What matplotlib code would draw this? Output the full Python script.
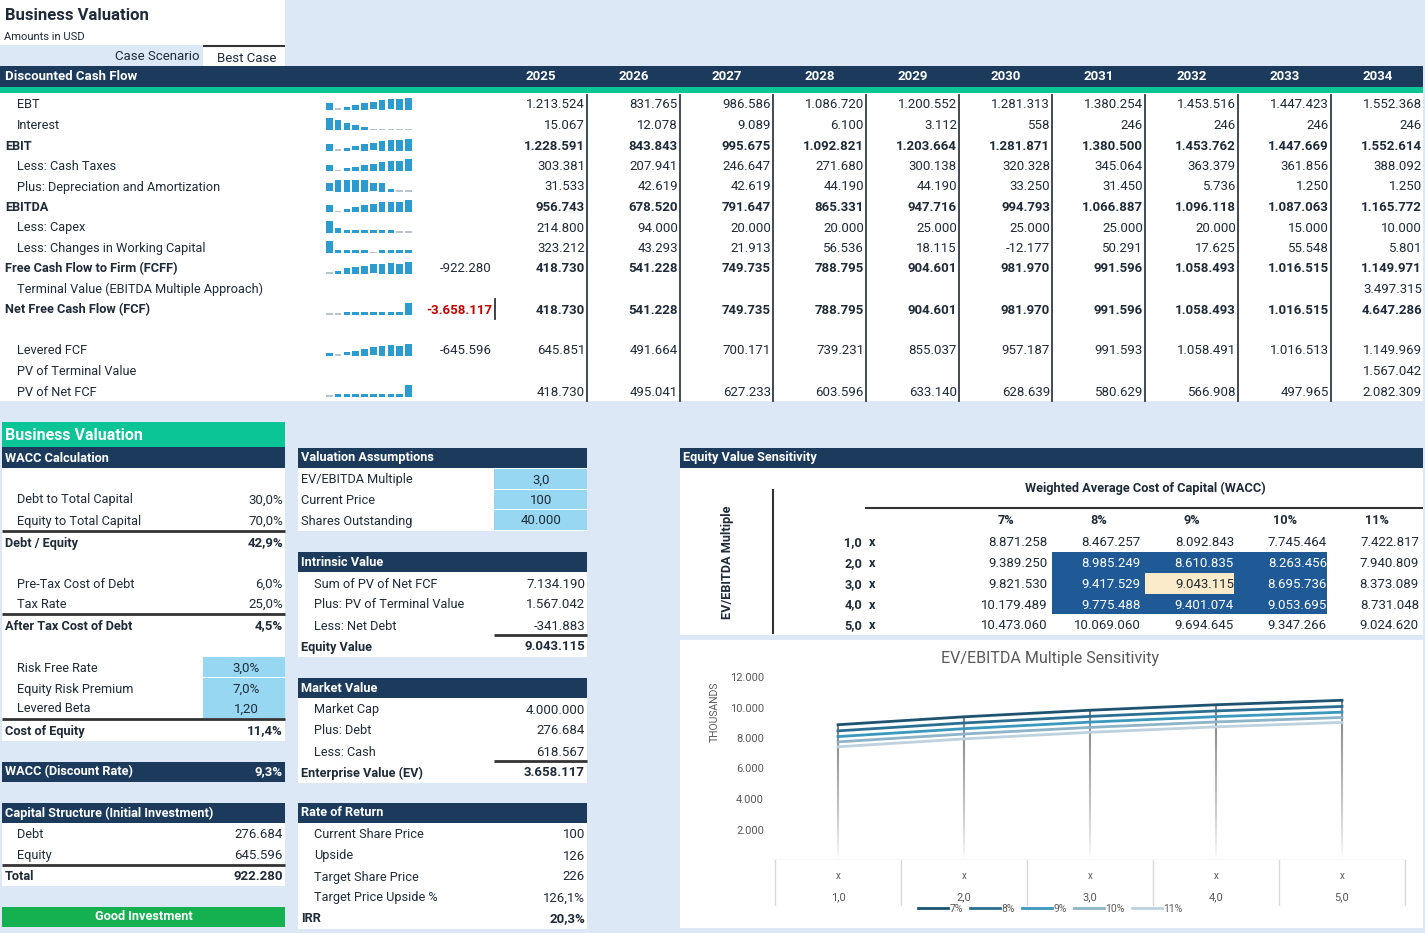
import matplotlib.pyplot as plt
import numpy as np
from matplotlib.patches import Rectangle
from matplotlib.collections import LineCollection

plt.rcParams['font.family'] = ['Roboto', 'DejaVu Sans']

# colours
FUNDO = '#dce8f6'
AZUL = '#1b3a5c'
VERDE_AGUA = '#0cc597'
INPUT = '#97d7f2'
TEXTO = '#1f2b38'
BLOCO = '#1f5a96'
DESTAQUE = '#fcebcb'
SPARK = '#2b9bd0'

# --- data: discounted cash flow ---
anos = [2025, 2026, 2027, 2028, 2029, 2030, 2031, 2032, 2033, 2034]
ebt = [1213524, 831765, 986586, 1086720, 1200552, 1281313, 1380254, 1453516, 1447423, 1552368]
interest = [15067, 12078, 9089, 6100, 3112, 558, 246, 246, 246, 246]
ebit = [1228591, 843843, 995675, 1092821, 1203664, 1281871, 1380500, 1453762, 1447669, 1552614]
cash_taxes = [303381, 207941, 246647, 271680, 300138, 320328, 345064, 363379, 361856, 388092]
dep_amort = [31533, 42619, 42619, 44190, 44190, 33250, 31450, 5736, 1250, 1250]
ebitda = [956743, 678520, 791647, 865331, 947716, 994793, 1066887, 1096118, 1087063, 1165772]
capex = [214800, 94000, 20000, 20000, 25000, 25000, 25000, 20000, 15000, 10000]
working_cap = [323212, 43293, 21913, 56536, 18115, -12177, 50291, 17625, 55548, 5801]
fcff = [418730, 541228, 749735, 788795, 904601, 981970, 991596, 1058493, 1016515, 1149971]
terminal_value = [None] * 9 + [3497315]
net_fcf = [418730, 541228, 749735, 788795, 904601, 981970, 991596, 1058493, 1016515, 4647286]
levered_fcf = [645851, 491664, 700171, 739231, 855037, 957187, 991593, 1058491, 1016513, 1149969]
pv_terminal = [None] * 9 + [1567042]
pv_net_fcf = [418730, 495041, 627233, 603596, 633140, 628639, 580629, 566908, 497965, 2082309]
fcff_inicial = -922280
net_fcf_inicial = -3658117
levered_inicial = -645596

# --- data: valuation panels ---
wacc_labels = ['Debt to Total Capital', 'Equity to Total Capital', 'Debt / Equity',
               'Pre-Tax Cost of Debt', 'Tax Rate', 'After Tax Cost of Debt',
               'Risk Free Rate', 'Equity Risk Premium', 'Levered Beta', 'Cost of Equity']
wacc_values = ['30,0%', '70,0%', '42,9%', '6,0%', '25,0%', '4,5%', '3,0%', '7,0%', '1,20', '11,4%']
wacc_rate = '9,3%'
cap_labels = ['Debt', 'Equity', 'Total']
cap_values = [276684, 645596, 922280]

assump_labels = ['EV/EBITDA Multiple', 'Current Price', 'Shares Outstanding']
assump_values = ['3,0', '100', '40.000']
intrinsic_labels = ['Sum of PV of Net FCF', 'Plus: PV of Terminal Value', 'Less: Net Debt', 'Equity Value']
intrinsic_values = [7134190, 1567042, -341883, 9043115]
market_labels = ['Market Cap', 'Plus: Debt', 'Less: Cash', 'Enterprise Value (EV)']
market_values = [4000000, 276684, 618567, 3658117]
return_labels = ['Current Share Price', 'Upside', 'Target Share Price', 'Target Price Upside %', 'IRR']
return_values = ['100', '126', '226', '126,1%', '20,3%']

# --- data: sensitivity ---
multiplos = ['1,0', '2,0', '3,0', '4,0', '5,0']
wacc_cols = ['7%', '8%', '9%', '10%', '11%']
sens = np.array([
    [8871258, 8467257, 8092843, 7745464, 7422817],
    [9389250, 8985249, 8610835, 8263456, 7940809],
    [9821530, 9417529, 9043115, 8695736, 8373089],
    [10179489, 9775488, 9401074, 9053695, 8731048],
    [10473060, 10069060, 9694645, 9347266, 9024620],
])
serie_cores = ['#1d5270', '#2a6f92', '#3a98bd', '#8db4c9', '#bdd2de']


def fmt(v):
    s = f"{abs(v):,.0f}".replace(',', '.')
    return '-' + s if v < 0 else s


fig = plt.figure(figsize=(14.25, 9.33), dpi=100)
fig.patch.set_facecolor(FUNDO)
ax = fig.add_axes([0, 0, 1, 1])
ax.set_xlim(0, 1425)
ax.set_ylim(933, 0)
ax.axis('off')


def caixa(x0, y0, x1, y1, cor):
    ax.add_patch(Rectangle((x0, y0), x1 - x0, y1 - y0, facecolor=cor, edgecolor='none', zorder=1))


def txt(x, y, s, ha='left', bold=False, cor=TEXTO, size=9.5, **kw):
    ax.text(x, y + 1, s, ha=ha, va='center', fontsize=size, color=cor,
            fontweight='bold' if bold else 'normal', zorder=5, **kw)


def linha(x0, x1, y, cor='#333333', lw=2):
    ax.plot([x0, x1], [y, y], color=cor, lw=lw, zorder=4, solid_capstyle='butt')


# top header
caixa(0, 0, 285, 45, 'white')
txt(5, 14, 'Business Valuation', bold=True, size=12)
txt(4, 36, 'Amounts in USD', size=8)
caixa(203, 46, 285, 66, 'white')
linha(203, 285, 46, lw=1.5)
txt(200, 56, 'Case Scenario', ha='right', size=9.5)
txt(217, 57, 'Best Case', size=9.5)

# DCF table
caixa(0, 66, 1423, 87, AZUL)
caixa(0, 87, 1423, 93, VERDE_AGUA)
caixa(0, 93, 1423, 401, 'white')
txt(5, 76, 'Discounted Cash Flow', bold=True, cor='white', size=9.5)
col_dir = [587 + 93 * i for i in range(10)]
for i, a in enumerate(anos):
    txt(col_dir[i] - 46, 76, str(a), ha='center', bold=True, cor='white', size=9.5)
for xr in col_dir[:-1]:
    ax.plot([xr, xr], [95, 401], color='#2f3d4a', lw=1.3, zorder=4)

linhas = [
    ('EBT', False, ebt, None, True),
    ('Interest', False, interest, None, True),
    ('EBIT', True, ebit, None, True),
    ('Less: Cash Taxes', False, cash_taxes, None, True),
    ('Plus: Depreciation and Amortization', False, dep_amort, None, True),
    ('EBITDA', True, ebitda, None, True),
    ('Less: Capex', False, capex, None, True),
    ('Less: Changes in Working Capital', False, working_cap, None, True),
    ('Free Cash Flow to Firm (FCFF)', True, fcff, fcff_inicial, True),
    ('Terminal Value (EBITDA Multiple Approach)', False, terminal_value, None, False),
    ('Net Free Cash Flow (FCF)', True, net_fcf, net_fcf_inicial, True),
    (None, False, None, None, False),
    ('Levered FCF', False, levered_fcf, levered_inicial, True),
    ('PV of Terminal Value', False, pv_terminal, None, False),
    ('PV of Net FCF', False, pv_net_fcf, None, True),
]

for k, (rot, negrito, vals, inicial, spark) in enumerate(linhas):
    y = 104 + 20.5 * k
    if rot is None:
        continue
    txt(5 if negrito else 17, y, rot, bold=negrito, size=9.2)
    for i, v in enumerate(vals):
        if v is not None:
            txt(col_dir[i] - 2, y, fmt(v), ha='right', bold=negrito, size=9.5)
    if inicial is not None:
        vermelho = rot.startswith('Net')
        txt(492, y, fmt(inicial), ha='right', bold=vermelho,
            cor='#c00000' if vermelho else TEXTO, size=9.5)
        if vermelho:
            ax.plot([495, 495], [y - 10, y + 10], color='#333333', lw=1.3, zorder=4)
    if spark:
        arr = np.array(vals, dtype=float)
        norm = (arr - arr.min()) / (arr.max() - arr.min())
        for i, n in enumerate(norm):
            x0 = 326 + 8.8 * i
            if n < 0.04:
                caixa(x0, y + 4, x0 + 6.6, y + 5.5, '#b9c4cc')
            else:
                h = max(n * 12, 3)
                caixa(x0, y + 5.5 - h, x0 + 6.6, y + 5.5, SPARK)

# left panel: WACC
caixa(2, 422, 285, 447, VERDE_AGUA)
txt(5, 434, 'Business Valuation', bold=True, cor='white', size=11.5)
caixa(2, 447, 285, 468, AZUL)
txt(5, 457, 'WACC Calculation', bold=True, cor='white', size=9.2)
caixa(2, 468, 285, 741, 'white')
wacc_y = [499, 520, 542, 583, 603, 625, 667, 688, 708, 730]
for k, (rot, val) in enumerate(zip(wacc_labels, wacc_values)):
    y = wacc_y[k]
    total = k in (2, 5, 9)
    if 6 <= k <= 8:
        caixa(203, y - 10, 285, y + 9.5, INPUT)
        txt(246, y, val, ha='center', size=9.5)
    else:
        txt(283, y, val, ha='right', bold=total, size=9.5)
    txt(5 if total else 17, y, rot, bold=total, size=9.2)
    if total:
        linha(2, 285, y - 11)
caixa(2, 762, 285, 782, AZUL)
txt(5, 771, 'WACC (Discount Rate)', bold=True, cor='white', size=9.2)
txt(283, 771, wacc_rate, ha='right', bold=True, cor='white', size=9.5)
caixa(2, 803, 285, 823, AZUL)
txt(5, 812, 'Capital Structure (Initial Investment)', bold=True, cor='white', size=9.2)
caixa(2, 823, 285, 886, 'white')
for k, (rot, val) in enumerate(zip(cap_labels, cap_values)):
    y = 834 + 20.8 * k
    total = k == 2
    txt(5 if total else 17, y, rot, bold=total, size=9.2)
    txt(283, y, fmt(val), ha='right', bold=total, size=9.5)
linha(2, 285, 865)
caixa(2, 907, 285, 927, '#15b04f')
txt(144, 916, 'Good Investment', ha='center', bold=True, cor='white', size=9.2)

# middle panel
caixa(298, 448, 587, 468, AZUL)
txt(301, 457, 'Valuation Assumptions', bold=True, cor='white', size=9.2)
caixa(298, 468, 587, 531, 'white')
for k, (rot, val) in enumerate(zip(assump_labels, assump_values)):
    y = 479 + 20.5 * k
    caixa(494, y - 10, 587, y + 9.5, INPUT)
    txt(301, y, rot, size=9.2)
    txt(541, y, val, ha='center', size=9.5)


def painel(y_top, titulo, rotulos, valores, total_idx, linha_y=None):
    caixa(298, y_top, 587, y_top + 20, AZUL)
    txt(301, y_top + 9, titulo, bold=True, cor='white', size=9.2)
    ys = [y_top + 31 + 21 * k for k in range(len(rotulos))]
    caixa(298, y_top + 20, 587, ys[-1] + 11, 'white')
    for k, (rot, val) in enumerate(zip(rotulos, valores)):
        total = k == total_idx
        s = fmt(val) if not isinstance(val, str) else val
        txt(301 if total else 314, ys[k], rot, bold=total, size=9.2)
        txt(585, ys[k], s, ha='right', bold=total, size=9.5)
    if linha_y:
        linha(494, 587, ys[total_idx] - 11)


painel(552, 'Intrinsic Value', intrinsic_labels, intrinsic_values, 3, True)
painel(678, 'Market Value', market_labels, market_values, 3, True)
painel(803, 'Rate of Return', return_labels, return_values, 4)

# sensitivity table
caixa(680, 448, 1423, 468, AZUL)
txt(683, 457, 'Equity Value Sensitivity', bold=True, cor='white', size=9.2)
caixa(680, 468, 1423, 635, 'white')
txt(1145, 487, 'Weighted Average Cost of Capital (WACC)', ha='center', bold=True, size=9.2)
linha(865, 1423, 508, lw=1.5)
ax.plot([773, 773], [490, 633], color='#333333', lw=1.5, zorder=4)
txt(728, 561, 'EV/EBITDA Multiple', ha='center', bold=True, size=9.2, rotation=90)
val_dir = [1048, 1141, 1234, 1327, 1419]
caixa(1052, 552, 1327, 614, BLOCO)
caixa(1145, 573, 1234, 594, DESTAQUE)
for j, w in enumerate(wacc_cols):
    txt(val_dir[j] - 42, 520, w, ha='center', bold=True, size=9.2)
for i, m in enumerate(multiplos):
    y = 542 + 20.7 * i
    txt(862, y, m, ha='right', bold=True, size=9.2)
    txt(869, y, 'x', bold=True, size=9.2)
    for j in range(len(wacc_cols)):
        no_bloco = 1 <= i <= 3 and 1 <= j <= 3 and not (i == 2 and j == 2)
        txt(val_dir[j], y, fmt(sens[i, j]), ha='right',
            cor='white' if no_bloco else TEXTO, size=9.5)

# chart panel
caixa(680, 640, 1423, 928, 'white')
txt(1050, 657, 'EV/EBITDA Multiple Sensitivity', ha='center', cor='#595959', size=11.5)

ax2 = fig.add_axes([775 / 1425, (933 - 860) / 933, 630 / 1425, (860 - 677) / 933])
ax2.set_facecolor('none')
ax2.set_xlim(-0.5, 4.5)
ax2.set_ylim(0, 12000)
for s in ax2.spines.values():
    s.set_visible(False)
xs = np.arange(len(multiplos))
# gradient drop lines
topo = sens.max(axis=1) / 1000
for i in xs:
    yy = np.linspace(0, topo[i], 60)
    segs = [[(i, yy[k]), (i, yy[k + 1])] for k in range(59)]
    alphas = np.linspace(0, 1, 59) ** 0.8
    cores = [(0.5, 0.5, 0.5, a) for a in alphas]
    ax2.add_collection(LineCollection(segs, colors=cores, linewidths=1.5, zorder=1))
for j, w in enumerate(wacc_cols):
    ax2.plot(xs, sens[:, j] / 1000, color=serie_cores[j], lw=2, label=w, zorder=3)
ax2.axhline(0, color='#d9d9d9', lw=1, zorder=2)
for b in np.arange(-0.5, 5, 1):
    ax2.plot([b, b], [0, -2950], color='#d9d9d9', lw=1, clip_on=False)
for i, m in enumerate(multiplos):
    ax2.text(i, -1050, 'x', ha='center', va='center', fontsize=7, color='#595959')
    ax2.text(i, -2430, m, ha='center', va='center', fontsize=8, color='#595959')
ax2.set_xticks([])
ax2.set_yticks(range(2000, 12001, 2000))
ax2.set_yticklabels([fmt(v) for v in range(2000, 12001, 2000)], fontsize=8, color='#595959')
ax2.tick_params(axis='y', length=0, pad=8)
ax2.set_ylabel('THOUSANDS', fontsize=7.5, color='#595959')
ax2.yaxis.set_label_coords(-0.087, 0.81)
ax2.legend(loc='center', bbox_to_anchor=(0.437, -0.268), ncol=5, frameon=False,
           fontsize=7.5, handlelength=2.9, columnspacing=0.7, handletextpad=0.1,
           labelcolor='#595959')

fig.savefig('out.png', dpi=100, facecolor=FUNDO)
